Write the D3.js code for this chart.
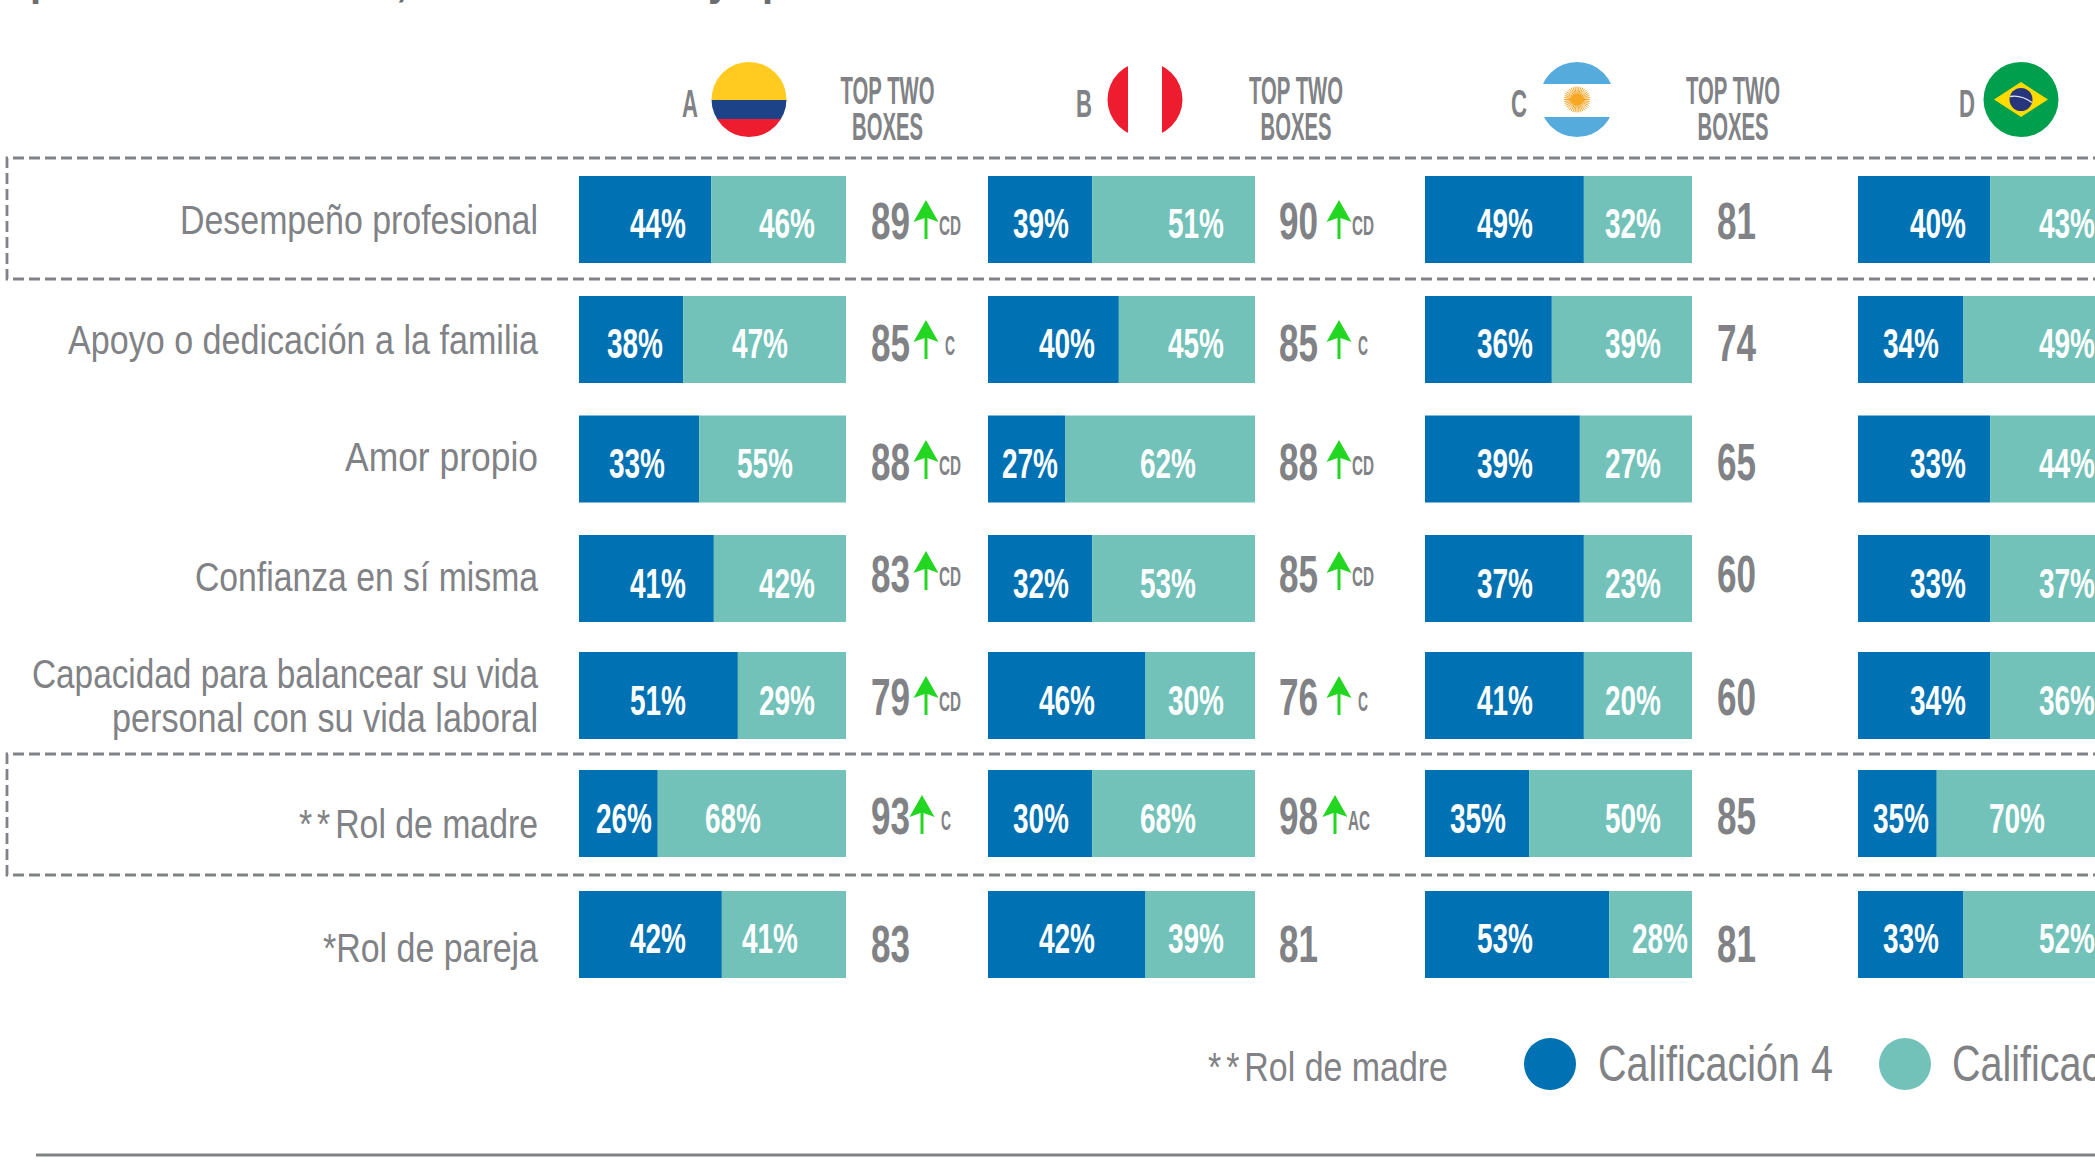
<!DOCTYPE html>
<html lang="es">
<head>
<meta charset="utf-8">
<script src="https://cdn.jsdelivr.net/npm/d3@7"></script>
<style>
html,body{margin:0;padding:0;background:#fff;overflow:hidden}
svg{display:block}
text{font-family:"Liberation Sans Narrow","Liberation Sans",sans-serif}
</style>
</head>
<body>
<svg id="c" width="2095" height="1169" viewBox="0 0 2095 1169"></svg>
<script>
// ---------- DATA ----------
const categories = ["Desempeño profesional","Apoyo o dedicación a la familia","Amor propio","Confianza en sí misma","Capacidad para balancear su vida|personal con su vida laboral","**Rol de madre","*Rol de pareja"];
const columns = ["A","B","C","D"];
const califica4A = [44,38,33,41,51,26,42];
const califica3A = [46,47,55,42,29,68,41];
const topTwoA = [89,85,88,83,79,93,83];
const notesA = ["CD","C","CD","CD","CD","C",""];
const califica4B = [39,40,27,32,46,30,42];
const califica3B = [51,45,62,53,30,68,39];
const topTwoB = [90,85,88,85,76,98,81];
const notesB = ["CD","C","CD","CD","C","AC",""];
const califica4C = [49,36,39,37,41,35,53];
const califica3C = [32,39,27,23,20,50,28];
const topTwoC = [81,74,65,60,60,85,81];
const notesC = ["","","","","","",""];
const califica4D = [40,34,33,33,34,35,33];
const califica3D = [43,49,44,37,36,70,52];
const topTwoD = [null,null,null,null,null,null,null];
const notesD = ["","","","","","",""];
// the drawn share of the bar taken by the dark segment (the original does not draw to value)
const drawnShareA = [49.5,39,45,50.5,59.5,29.5,53.5];
const drawnShareB = [39,49,29,39,59,39,59];
const drawnShareC = [59.5,47.5,58,59.5,59.5,39,69];
const drawnShareD = [49.5,39.5,49.5,49.5,49.5,29.5,39.5];
const legendLabels = ["Calificación 4","Calificación 3"];
const legendNote = "**Rol de madre";
const topTwoTitle = ["TOP TWO","BOXES"];

// ---------- LAYOUT (kept apart from the data) ----------
const C_BLUE="#0071b3", C_TEAL="#72c2b9", C_GRAY="#808285", C_GREEN="#22d622";
const rowTops=[176,296,415.5,535,652,770,891], rowH=87, barW=267;
const colX=[579,988,1425,1858];
const pctBase=[238,358,477.5,597.5,714.5,833,953];
const numBase=[239,361,480,592,715,834,962];
const arrowTop=[200,320,440,551,676,795];
const labelBase=[234,354,471,591,[688,732],838,962];
const labelW=[358,470,193,343,[506,426],239,215];
const blueCx=[[658,635,637,658,658,624,658],[1041,1067,1030,1041,1067,1041,1067],[1505,1505,1505,1505,1505,1478,1505],[1938,1911,1938,1938,1938,1901,1911]];
const tealCx=[[787,760,765,787,787,733,770],[1196,1196,1168,1168,1196,1168,1196],[1633,1633,1633,1633,1633,1633,1660],[2067,2067,2067,2067,2067,2017,2067]];
const numX=[871,1279,1717];
const arrowX=[[926,926,926,926,926,922],[1339,1339,1339,1339,1339,1335]];

// ---------- SCALES ----------
const x = d3.scaleLinear().domain([0,100]).range([0,barW]);
const yRow = d3.scaleOrdinal().domain(categories).range(rowTops);
const xCol = d3.scaleOrdinal().domain(columns).range(colX);

const svg = d3.select("#c");

function cond(sel,o){ // condensed text fitted to a measured width
  const t=sel.append("text").attr("x",o.x).attr("y",o.y).attr("font-size",o.size)
    .attr("font-weight",o.weight||400).attr("fill",o.fill||C_GRAY)
    .attr("text-anchor",o.anchor||"start");
  const m=/^(\*+)(.*)$/.exec(o.text);
  if(m){ // spaced asterisks
    t.append("tspan").attr("letter-spacing",m[1].length>1?6:0).text(m[1]);
    t.append("tspan").text(m[2]);
  } else t.text(o.text);
  if(o.w){t.attr("textLength",o.w).attr("lengthAdjust","spacingAndGlyphs");}
  return t;
}

// clipped title remnants at the very top edge
[["p",30],[",",396],["y",708],["p",762]].forEach(([s,px])=>cond(svg,{x:px,y:-4,size:40,weight:700,text:s,fill:"#6d6e71"}));

// dashed highlight boxes
[[158,279],[754,875]].forEach(([a,b])=>{
  svg.append("path").attr("d",`M2200,${a}H7V${b}H2200`).attr("fill","none")
    .attr("stroke",C_GRAY).attr("stroke-width",2.8).attr("stroke-dasharray","11 5");
});

// bottom rule
svg.append("line").attr("x1",36).attr("x2",2095).attr("y1",1155).attr("y2",1155).attr("stroke",C_GRAY).attr("stroke-width",3);

// row labels
categories.forEach((c,i)=>{
  const lines=c.split("|");
  lines.forEach((ln,k)=>{
    const by=Array.isArray(labelBase[i])?labelBase[i][k]:labelBase[i];
    const w=Array.isArray(labelW[i])?labelW[i][k]:labelW[i];
    cond(svg,{x:538,y:by,size:41,text:ln,anchor:"end",w});
  });
});

// bars
const tables=[
 {blue:califica4A,teal:califica3A,top:topTwoA,notes:notesA,share:drawnShareA},
 {blue:califica4B,teal:califica3B,top:topTwoB,notes:notesB,share:drawnShareB},
 {blue:califica4C,teal:califica3C,top:topTwoC,notes:notesC,share:drawnShareC},
 {blue:califica4D,teal:califica3D,top:topTwoD,notes:notesD,share:drawnShareD}];

tables.forEach((t,ci)=>{
  const g=svg.append("g").attr("class","col-"+columns[ci]);
  const x0=xCol(columns[ci]);
  const rows=categories.map((c,i)=>({c,i,blue:t.blue[i],teal:t.teal[i],top:t.top[i],note:t.notes[i],share:t.share[i]}));
  g.selectAll("rect.b").data(rows).join("rect").attr("class","b")
    .attr("x",x0).attr("y",d=>yRow(d.c)).attr("width",d=>x(d.share)).attr("height",rowH).attr("fill",C_BLUE);
  g.selectAll("rect.t").data(rows).join("rect").attr("class","t")
    .attr("x",d=>x0+x(d.share)).attr("y",d=>yRow(d.c)).attr("width",d=>x(100-d.share)).attr("height",rowH).attr("fill",C_TEAL);
  rows.forEach(d=>{
    cond(g,{x:blueCx[ci][d.i],y:pctBase[d.i],size:42,weight:700,fill:"#fff",anchor:"middle",text:d.blue+"%",w:56});
    cond(g,{x:tealCx[ci][d.i],y:pctBase[d.i],size:42,weight:700,fill:"#fff",anchor:"middle",text:d.teal+"%",w:56});
    if(d.top!=null){
      cond(g,{x:numX[ci],y:numBase[d.i],size:51,weight:700,text:String(d.top),w:39});
    }
    if(d.note){
      const ax=arrowX[ci][d.i], ay=arrowTop[d.i];
      g.append("path").attr("fill",C_GREEN)
        .attr("d",`M${ax},${ay}L${ax+12.5},${ay+22}L${ax+1.5},${ay+18}V${ay+39}H${ax-1.5}V${ay+18}L${ax-12.5},${ay+22}Z`);
      cond(g,{x:ax+24,y:ay+35,size:28,weight:700,anchor:"middle",text:d.note,w:d.note.length>1?22:10});
    }
  });
});

// header
const flagCx=[749,1145,1577,2021], flagCy=99.5, flagR=37.5;
const letterX=[690,1084,1519,1967], titleCx=[887.5,1296,1733];
const defs=svg.append("defs");
flagCx.forEach((cx,i)=>{
  defs.append("clipPath").attr("id","fl"+i).append("circle").attr("cx",cx).attr("cy",flagCy).attr("r",flagR);
  cond(svg,{x:letterX[i],y:117,size:39,weight:700,anchor:"middle",text:columns[i],w:16});
  if(i<3){
    cond(svg,{x:titleCx[i],y:104,size:38,weight:700,anchor:"middle",text:topTwoTitle[0],w:94});
    cond(svg,{x:titleCx[i],y:140,size:38,weight:700,anchor:"middle",text:topTwoTitle[1],w:71});
  }
});
const fg=i=>svg.append("g").attr("clip-path",`url(#fl${i})`);
const band=(g,x0,y0,w,h,f)=>g.append("rect").attr("x",x0).attr("y",y0).attr("width",w).attr("height",h).attr("fill",f);
// Colombia
let g0=fg(0), cx=flagCx[0];
band(g0,cx-40,60,80,40,"#ffcb20"); band(g0,cx-40,100,80,19,"#1c4288"); band(g0,cx-40,119,80,20,"#ed1c2e");
// Peru
let g1=fg(1); cx=flagCx[1];
band(g1,cx-40,60,23,80,"#ed1c2e"); band(g1,cx+17,60,23,80,"#ed1c2e");
// Argentina
let g2=fg(2); cx=flagCx[2];
band(g2,cx-40,60,80,24,"#55acdc"); band(g2,cx-40,117,80,22,"#55acdc");
d3.range(0,360,9).forEach(a=>{
  const r=a*Math.PI/180;
  g2.append("line").attr("x1",cx).attr("y1",flagCy).attr("x2",cx+13*Math.cos(r)).attr("y2",flagCy+13*Math.sin(r))
    .attr("stroke","#f4a62a").attr("stroke-width",1);
});
g2.append("circle").attr("cx",cx).attr("cy",flagCy).attr("r",6).attr("fill","#f7a823");
// Brazil
let g3=fg(3); cx=flagCx[3];
band(g3,cx-40,60,80,80,"#009f4d");
g3.append("path").attr("d",`M${cx-27},${flagCy}L${cx},${flagCy-17.5}L${cx+27},${flagCy}L${cx},${flagCy+17.5}Z`).attr("fill","#ffdb00");
g3.append("circle").attr("cx",cx).attr("cy",flagCy).attr("r",11.5).attr("fill","#27367c");
g3.append("path").attr("d",`M${cx-11},${flagCy-3}Q${cx},${flagCy-5} ${cx+11},${flagCy+3}`).attr("fill","none").attr("stroke","#dfe6ee").attr("stroke-width",1.4);

// legend
cond(svg,{x:1208,y:1081,size:41,text:legendNote,w:240});
svg.append("circle").attr("cx",1550).attr("cy",1064).attr("r",26).attr("fill",C_BLUE);
cond(svg,{x:1598,y:1081,size:50,text:legendLabels[0],w:235});
svg.append("circle").attr("cx",1905).attr("cy",1064).attr("r",26).attr("fill",C_TEAL);
cond(svg,{x:1952,y:1081,size:50,text:legendLabels[1],w:235});
</script>
</body>
</html>
